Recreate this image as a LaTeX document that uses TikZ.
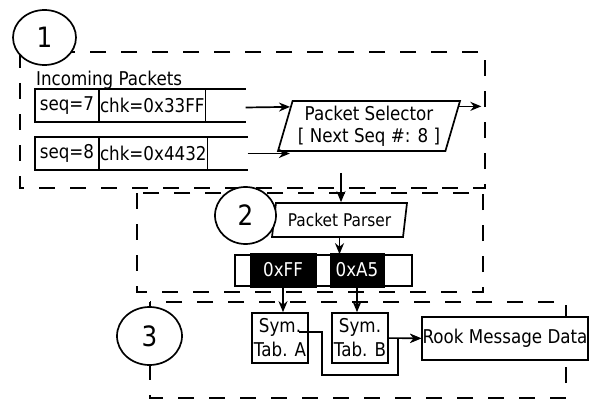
\documentclass[tikz,border=0pt]{standalone}
\usepackage{fontspec}
\setmainfont[FakeStretch=0.88]{DejaVu Sans}
\usetikzlibrary{positioning, shapes.geometric, arrows.meta, calc, backgrounds}

\begin{document}
\begin{tikzpicture}[x=1pt, y=-1pt,
    every node/.style={font=\fontsize{19}{22}\selectfont, align=center, inner sep=1pt},
    field/.style  ={draw, line width=1.7pt, outer sep=0pt, minimum height=33pt},
    stage/.style  ={draw, line width=1.7pt, fill=white, trapezium, trapezium left angle=71, trapezium right angle=109, trapezium stretches body},
    bytebox/.style={draw=black, fill=black, text=white, minimum height=34pt},
    symtab/.style ={draw, line width=1.7pt, minimum width=56pt, minimum height=50pt, font=\fontsize{19}{24}\selectfont},
    stepnum/.style={draw, ellipse, fill=white, line width=1.7pt, inner sep=0pt, font=\fontsize{28}{28}\selectfont},
    region/.style ={draw, line width=1.7pt, dash pattern=on 16pt off 15pt},
    arrow/.style  ={-{Stealth[length=11pt, width=9pt]}, line width=1.7pt},
    wire/.style   ={line width=1.7pt},
    node distance=15pt and 0pt
]
\useasboundingbox (0,0) rectangle (596,401);

% ========== STAGE 1: Incoming packets ==========
\node[anchor=base west, inner sep=0pt] (inlabel) at (36,85) {Incoming Packets};
\node[field, minimum width=64pt, anchor=north west] (seq7) at (35,89) {seq=7};
\node[field, minimum width=106pt, right=0pt of seq7] (chk7) {chk=0x33FF};
\node[field, minimum width=64pt, below=15pt of seq7] (seq8) {seq=8};
\node[field, minimum width=106pt, right=0pt of seq8] (chk8) {chk=0x4432};

% open queue slots
\draw[wire] (chk7.north east) -- ++(40,0);
\draw[wire] (chk7.south east) -- ++(40,0);
\draw[wire] (chk8.north east) -- ++(40,0);
\draw[wire] (chk8.south east) -- ++(40,0);
\coordinate (tail7) at ($(chk7.east)+(40,2)$);
\coordinate (tail8) at ($(chk8.east)+(40,0)$);

\node[stage, minimum width=182pt, minimum height=50pt] (sel) at (369,126) {Packet Selector\\{[} Next Seq \#: 8 ]};

% ========== STAGE 2: Parser ==========
\node[stage, trapezium left angle=73.6, trapezium right angle=106.4, minimum width=135pt, minimum height=34pt, inner sep=0pt, font=\fontsize{17.5}{22}\selectfont] (parser) at (339.5,220) {Packet Parser};

\node[draw, line width=1.7pt, minimum width=177pt, minimum height=31pt] (bytes) at (323.5,270.5) {};
\node[bytebox, minimum width=66pt] (ff) at (283,270) {0xFF};
\node[bytebox, minimum width=54pt] (a5) at (357,270) {0xA5};

% ========== STAGE 3: Symbol tables ==========
\node[symtab] (symA) at (280,338) {Sym.\\Tab. A};
\node[symtab] (symB) at (360,338) {Sym.\\Tab. B};
\node[draw, line width=1.7pt, fill=white, minimum width=166pt, minimum height=43pt, inner sep=0pt] (rook) at (505,338.5) {Rook Message Data};

% ========== Step numbers ==========
\node[stepnum, minimum width=63pt, minimum height=55pt] (one)   at (44.5,37.5) {1};
\node[stepnum, minimum width=61pt, minimum height=57pt] (two)   at (245.5,215.5) {2};
\node[stepnum, minimum width=65pt, minimum height=58pt] (three) at (149.5,336) {3};

% ========== ARROWS ==========
\draw[arrow] (tail7) -- ($(sel.top left corner)!0.13!(sel.bottom left corner)$);
\draw[arrow] (tail8) -- ($(tail8 -| sel.bottom left corner)+(13,0)$);
\draw[arrow] ($(sel.top right corner)!0.12!(sel.bottom right corner)$) -- ++(22,0);

\coordinate (seldrop) at ($(sel.south)+(-28,21)$);
\draw[arrow] (seldrop) -- (seldrop |- parser.north);
\draw[arrow] (parser.south) -- (parser.south |- bytes.north);

\draw[arrow] (ff.south) -- (ff.south |- symA.north);
\draw[arrow] (a5.south) -- (a5.south |- symB.north);

\draw[arrow] ($(symA.east)+(-10,-6)$) -- ++(23,0) |- ($(symB.south east)+(9,11)$) |- (rook.west);
\draw[arrow] (symB) -- (rook);

% ========== dashed stage regions ==========
\begin{scope}[on background layer]
\draw[region] (20,52) rectangle (485,188);
\draw[region] (137,193) rectangle (483,292);
\draw[region] (150,302) rectangle (566,398);
\end{scope}

\end{tikzpicture}
\end{document}
